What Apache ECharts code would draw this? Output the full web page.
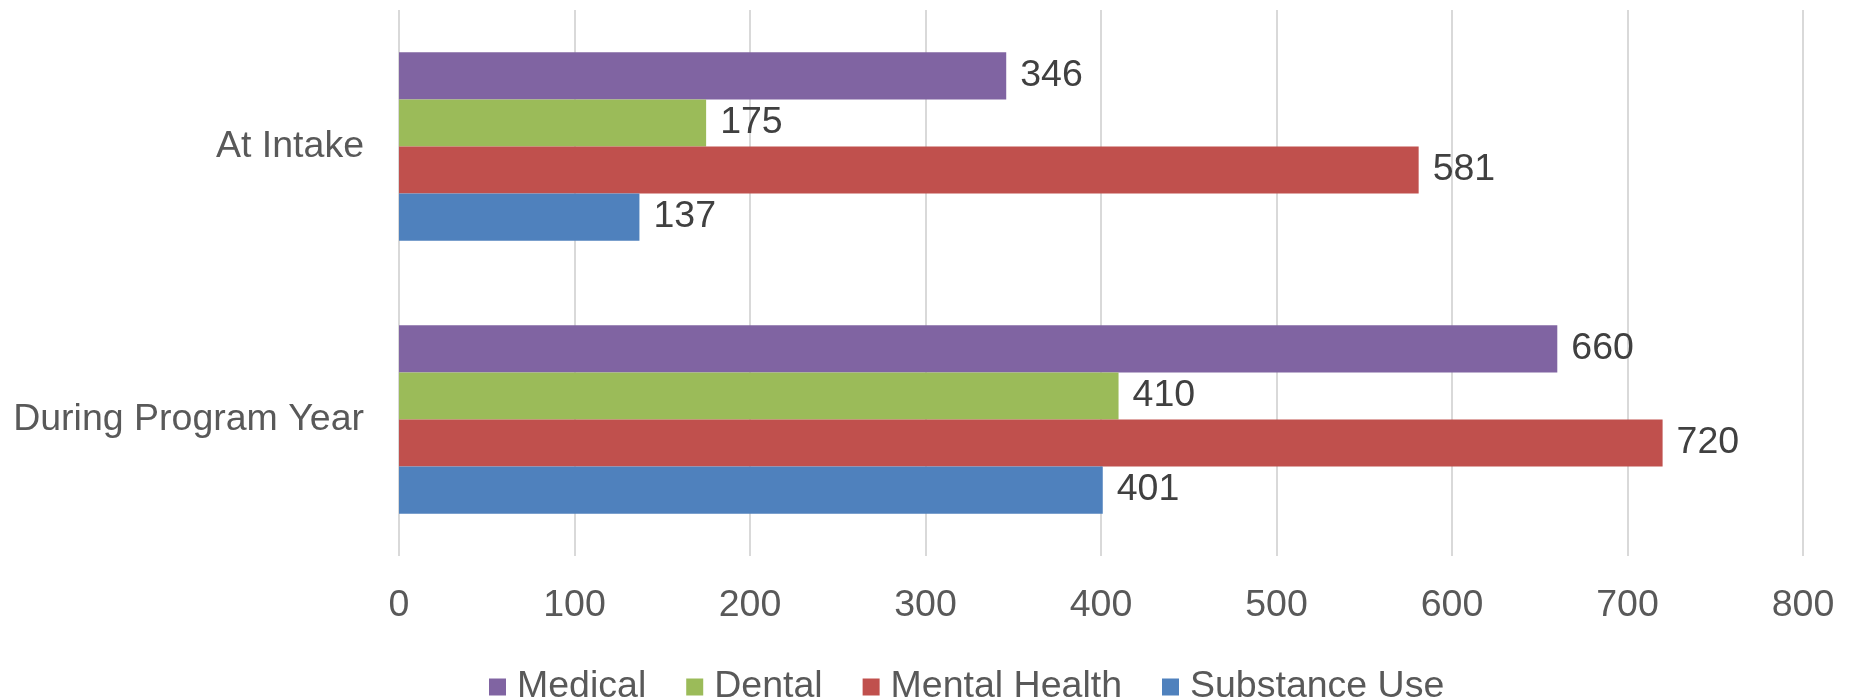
<!DOCTYPE html>
<html>
<head>
<meta charset="utf-8">
<script src="https://cdn.jsdelivr.net/npm/echarts@6/dist/echarts.min.js"></script>
<style>
  html, body { margin: 0; padding: 0; background: #fff; }
  #chart { width: 1856px; height: 700px; }
</style>
</head>
<body>
<div id="chart"></div>
<script>
  // data
  var categories = ['At Intake', 'During Program Year'];
  var seriesNames = ['Medical', 'Dental', 'Mental Health', 'Substance Use'];
  var medical = [346, 660];
  var dental = [175, 410];
  var mentalHealth = [581, 720];
  var substanceUse = [137, 401];
  var xTicks = [0, 100, 200, 300, 400, 500, 600, 700, 800];

  var colors = ['#8064A2', '#9BBB59', '#C0504D', '#4F81BD'];
  var values = [medical, dental, mentalHealth, substanceUse];
  var font = '"Liberation Sans", Arial, sans-serif';
  var fs = 37.5;

  var chart = echarts.init(document.getElementById('chart'));

  chart.setOption({
    animation: false,
    color: colors,
    textStyle: { fontFamily: font },
    grid: {
      left: 399,
      right: 53,
      top: 10,
      bottom: 144,
      containLabel: false
    },
    legend: {
      data: seriesNames,
      left: 489,
      top: 668,
      padding: 0,
      icon: 'rect',
      itemWidth: 17,
      itemHeight: 17,
      itemGap: 40,
      textStyle: { fontSize: fs, color: '#595959', fontFamily: font, padding: [0, 0, 0, 6] }
    },
    xAxis: {
      type: 'value',
      min: xTicks[0],
      max: xTicks[xTicks.length - 1],
      interval: 100,
      axisLine: { show: false },
      axisTick: { show: false },
      splitLine: { show: true, lineStyle: { color: '#d9d9d9', width: 2 } },
      axisLabel: { fontSize: fs, color: '#595959', margin: 31, fontFamily: font }
    },
    yAxis: {
      type: 'category',
      inverse: true,
      data: categories,
      axisLine: { show: false },
      axisTick: { show: false },
      axisLabel: { fontSize: fs, color: '#595959', margin: 35, fontFamily: font }
    },
    series: seriesNames.map(function (name, i) {
      return {
        name: name,
        type: 'bar',
        data: values[i],
        barGap: '0%',
        barCategoryGap: '31%',
        itemStyle: { color: colors[i] },
        label: {
          show: true,
          position: 'right',
          distance: 14,
          fontSize: fs,
          color: '#404040',
          fontFamily: font
        }
      };
    })
  });
</script>
</body>
</html>
